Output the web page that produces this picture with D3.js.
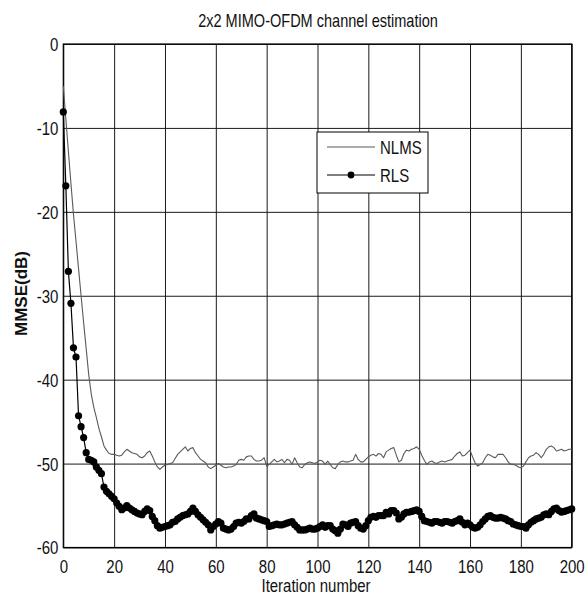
<!DOCTYPE html>
<html>
<head>
<meta charset="utf-8">
<script src="https://cdn.jsdelivr.net/npm/d3@7"></script>
<style>
  html, body { margin: 0; padding: 0; background: #fff; }
  svg { display: block; }
  text { font-family: "Liberation Sans", Arial, Helvetica, sans-serif; fill: #111; }
</style>
</head>
<body>
<svg id="chart" width="587" height="597"></svg>
<script>
// Mean squared error (dB) per iteration, iterations 0..200
const nlms = [
  -5.0, -8.9, -12.8, -16.6, -20.3, -23.5, -26.8, -30.0, -33.2, -36.3,
  -39.4, -41.7, -43.3, -44.5, -45.8, -46.8, -47.9, -48.4, -48.8, -48.9,
  -48.9, -49.0, -49.1, -49.0, -48.6, -48.3, -48.5, -48.7, -48.8, -48.9,
  -49.2, -49.3, -49.1, -48.7, -48.5, -49.1, -49.8, -50.4, -50.7, -50.4,
  -50.2, -50.1, -50.0, -49.9, -49.4, -48.9, -48.6, -48.3, -48.0, -48.5,
  -48.2, -48.1, -48.7, -49.1, -49.5, -49.7, -49.9, -50.4, -50.6, -50.4,
  -50.2, -50.0, -50.2, -50.4, -50.5, -50.4, -50.4, -50.3, -50.1, -49.6,
  -49.5, -49.6, -49.2, -49.1, -49.1, -49.5, -49.7, -49.7, -49.6, -49.3,
  -50.3, -50.1, -49.8, -49.5, -49.8, -49.7, -49.5, -49.9, -49.5, -49.6,
  -50.1, -49.3, -49.9, -50.4, -50.5, -50.1, -49.9, -49.8, -49.9, -50.0,
  -49.8, -49.6, -49.7, -50.1, -49.7, -50.1, -50.5, -50.6, -50.1, -49.8,
  -49.7, -49.8, -49.8, -49.7, -49.6, -48.9, -49.5, -49.8, -49.8, -49.5,
  -49.2, -49.0, -48.9, -49.1, -48.8, -48.9, -49.3, -48.6, -48.4, -48.2,
  -48.1, -49.0, -49.8, -49.6, -48.8, -48.4, -48.5, -48.3, -48.2, -48.0,
  -48.3, -49.0, -49.6, -50.1, -49.8, -49.7, -49.9, -50.0, -49.8, -49.7,
  -49.8, -49.7, -49.6, -49.5, -49.1, -48.8, -48.6, -49.1, -49.0, -48.7,
  -48.4, -49.2, -49.9, -50.3, -50.1, -49.9, -49.3, -48.9, -49.0, -49.2,
  -49.3, -48.9, -48.9, -48.9, -49.3, -49.8, -50.1, -50.1, -50.2, -50.4,
  -50.5, -50.3, -49.8, -49.3, -49.1, -49.0, -48.7, -48.9, -49.3, -48.9,
  -48.3, -48.0, -47.9, -48.1, -48.5, -48.4, -48.3, -48.5, -48.4, -48.3,
  -48.3
];
const rls = [
  -8.1, -16.9, -27.1, -30.9, -36.2, -37.3, -44.3, -45.6, -46.9, -48.7,
  -49.5, -49.6, -49.8, -50.4, -50.8, -51.2, -52.8, -53.3, -53.6, -53.9,
  -54.2, -54.7, -55.1, -55.5, -55.3, -55.0, -55.3, -55.5, -55.7, -55.9,
  -56.0, -56.1, -55.7, -55.4, -55.6, -56.3, -56.8, -57.4, -57.7, -57.6,
  -57.5, -57.4, -57.3, -57.0, -56.9, -56.6, -56.4, -56.2, -56.1, -56.0,
  -55.7, -55.3, -55.7, -56.1, -56.4, -56.7, -57.0, -57.3, -57.9, -57.5,
  -57.2, -56.9, -57.1, -57.7, -57.8, -57.9, -57.8, -57.5, -57.1, -57.0,
  -57.1, -56.9, -56.6, -56.6, -56.2, -56.0, -56.5, -56.6, -56.7, -56.8,
  -56.9, -57.5, -57.4, -57.3, -57.2, -57.3, -57.3, -57.2, -57.1, -57.0,
  -56.9, -57.3, -57.6, -57.9, -57.9, -57.9, -57.8, -57.7, -57.8, -57.8,
  -57.7, -57.5, -57.3, -57.6, -57.4, -57.4, -57.8, -58.0, -58.3, -57.8,
  -57.2, -57.3, -57.5, -57.1, -57.0, -56.9, -57.4, -57.7, -57.8, -57.4,
  -56.8, -56.4, -56.3, -56.4, -56.2, -56.2, -56.2, -55.8, -56.0, -55.6,
  -55.6, -55.9, -56.6, -56.4, -56.0, -55.8, -55.8, -55.7, -55.6, -55.5,
  -55.7, -56.3, -56.8, -56.9, -57.0, -57.1, -56.9, -56.9, -57.0, -57.1,
  -56.9, -56.9, -57.0, -57.1, -56.9, -56.8, -56.6, -57.0, -57.3, -57.1,
  -57.3, -57.6, -57.7, -57.6, -57.3, -56.9, -56.6, -56.3, -56.2, -56.4,
  -56.5, -56.5, -56.4, -56.5, -56.6, -56.8, -56.9, -57.2, -57.3, -57.4,
  -57.5, -57.5, -57.7, -57.3, -57.0, -56.8, -56.6, -56.5, -56.4, -56.1,
  -56.0, -56.1, -55.7, -55.4, -55.3, -55.6, -55.8, -55.7, -55.6, -55.5,
  -55.4
];
const xTicks = [0, 20, 40, 60, 80, 100, 120, 140, 160, 180, 200];
const yTicks = [0, -10, -20, -30, -40, -50, -60];
const seriesNames = ["NLMS", "RLS"];
const titleText = "2x2 MIMO-OFDM channel estimation";
const xLabelText = "Iteration number";
const yLabelText = "MMSE(dB)";

const svg = d3.select("#chart");
const plotL = 63.3, plotR = 571.7, plotT = 44, plotB = 547.5;
const SX = 0.81; // horizontal squeeze of the narrow label face
const fmt = d => String(d); // plain hyphen for negatives

const x = d3.scaleLinear().domain([0, 200]).range([plotL, plotR]);
const y = d3.scaleLinear().domain([-60, 0]).range([plotB, plotT]);

// grid lines
const gx = svg.append("g").attr("transform", `translate(0,${plotB})`)
  .call(d3.axisBottom(x).tickValues(xTicks).tickSize(-(plotB - plotT)).tickFormat(""));
const gy = svg.append("g").attr("transform", `translate(${plotL},0)`)
  .call(d3.axisLeft(y).tickValues(yTicks).tickSize(-(plotR - plotL)).tickFormat(""));
[gx, gy].forEach(g => {
  g.select(".domain").remove();
  g.selectAll(".tick line").attr("stroke", "#1a1a1a").attr("stroke-width", 1);
});

// plot frame
svg.append("rect")
  .attr("x", plotL).attr("y", plotT)
  .attr("width", plotR - plotL).attr("height", plotB - plotT)
  .attr("fill", "none").attr("stroke", "#000").attr("stroke-width", 1.2);

// tick labels
const xl = svg.append("g").attr("transform", `translate(0,${plotB})`)
  .call(d3.axisBottom(x).tickValues(xTicks).tickSize(0).tickFormat(fmt));
xl.select(".domain").remove();
xl.selectAll("text")
  .attr("y", 25.5).attr("dy", null)
  .attr("font-size", 18.5)
  .attr("fill", "#161630")
  .attr("transform", `scale(${SX},1)`)
  .attr("x", 0);

const yl = svg.append("g").attr("transform", `translate(${plotL},0)`)
  .call(d3.axisLeft(y).tickValues(yTicks).tickSize(0).tickFormat(fmt));
yl.select(".domain").remove();
yl.selectAll("text")
  .attr("x", -5 / SX).attr("dy", "0.35em")
  .attr("font-size", 18.5)
  .attr("fill", "#161630")
  .attr("transform", `scale(${SX},1)`);

// series
const idx = d3.range(nlms.length);
const line = arr => d3.line().x(i => x(i)).y(i => y(arr[i]))(idx);

svg.append("path").attr("d", line(nlms))
  .attr("fill", "none").attr("stroke", "#5a5a5a").attr("stroke-width", 1.1)
  .attr("stroke-linejoin", "round");

svg.append("path").attr("d", line(rls))
  .attr("fill", "none").attr("stroke", "#000").attr("stroke-width", 1.2);
svg.append("g").selectAll("circle").data(idx).join("circle")
  .attr("cx", i => x(i)).attr("cy", i => y(rls[i]))
  .attr("r", 3.6).attr("fill", "#000");

// legend
const lg = svg.append("g");
lg.append("rect").attr("x", 317).attr("y", 132).attr("width", 111).attr("height", 61)
  .attr("fill", "#fff").attr("stroke", "#000").attr("stroke-width", 1);
const rows = [
  { name: seriesNames[0], y: 147, stroke: "#5a5a5a", marker: false },
  { name: seriesNames[1], y: 175, stroke: "#000", marker: true }
];
rows.forEach(r => {
  lg.append("line").attr("x1", 327).attr("x2", 375).attr("y1", r.y).attr("y2", r.y)
    .attr("stroke", r.stroke).attr("stroke-width", 1.1);
  if (r.marker) lg.append("circle").attr("cx", 351).attr("cy", r.y).attr("r", 3.4).attr("fill", "#000");
  lg.append("text").attr("transform", `translate(380,${r.y}) scale(${SX},1)`)
    .attr("dy", "0.36em").attr("font-size", 18.5).attr("fill", "#161630").text(r.name);
});

// title and axis labels
svg.append("text").attr("transform", `translate(318,27) scale(0.83,1)`)
  .attr("text-anchor", "middle").attr("font-size", 17.5).text(titleText);
svg.append("text").attr("transform", `translate(316,592) scale(${SX},1)`)
  .attr("text-anchor", "middle").attr("font-size", 18.5).attr("fill", "#161630").text(xLabelText);
svg.append("text").attr("transform", `translate(26.5,293.5) rotate(-90)`)
  .attr("text-anchor", "middle").attr("font-size", 17).attr("font-weight", "bold").text(yLabelText);
</script>
</body>
</html>
